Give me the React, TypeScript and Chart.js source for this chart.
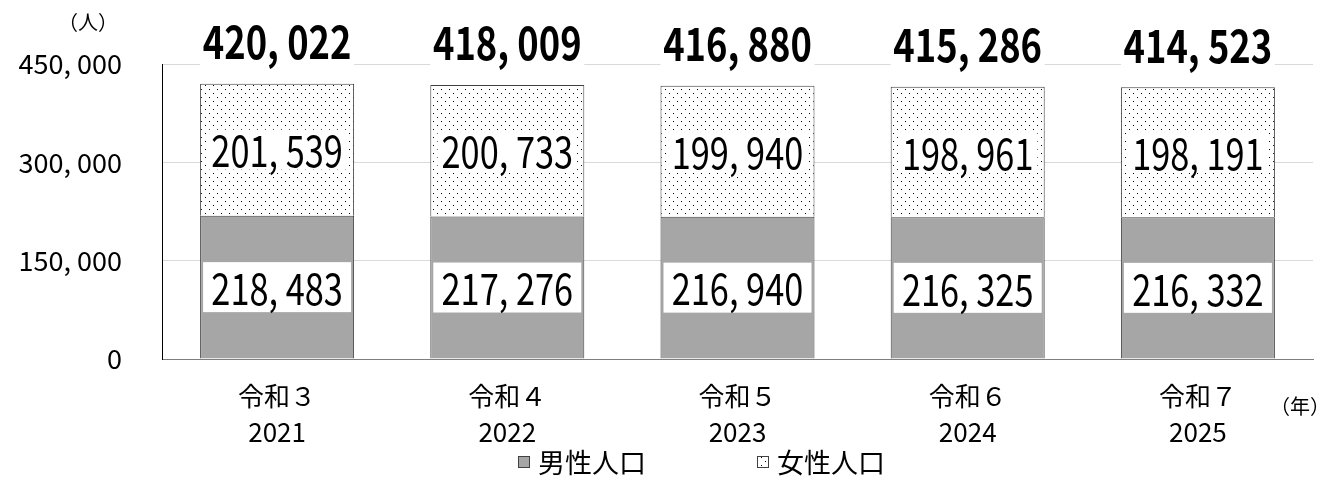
import React, { useEffect, useRef } from "react";
import { Chart, registerables } from "chart.js";

Chart.register(...registerables);

const eraLabels = ["令和３", "令和４", "令和５", "令和６", "令和７"];
const yearLabels = ["2021", "2022", "2023", "2024", "2025"];
const maleValues = [218483, 217276, 216940, 216325, 216332];
const femaleValues = [201539, 200733, 199940, 198961, 198191];
const totalValues = [420022, 418009, 416880, 415286, 414523];
const seriesNames = ["男性人口", "女性人口"];
const yMax = 450000;
const yStep = 150000;
const yUnit = "（人）";
const xUnit = "（年）";

const NUM_FONT = "'Noto Sans CJK JP', sans-serif";
const CJK_FONT = "'Noto Sans CJK JP', sans-serif";

const fmt = (n: number) => n.toLocaleString("en-US").split(",").join(", ");

function makeDotPattern(ctx: CanvasRenderingContext2D) {
  const c = document.createElement("canvas");
  c.width = 8;
  c.height = 8;
  const p = c.getContext("2d")!;
  p.fillStyle = "#ffffff";
  p.fillRect(0, 0, 8, 8);
  p.fillStyle = "#000000";
  p.fillRect(1, 1, 1, 1);
  p.fillRect(5, 5, 1, 1);
  return ctx.createPattern(c, "repeat")!;
}

function narrowText(ctx: CanvasRenderingContext2D, txt: string, x: number, y: number, sx: number) {
  ctx.save();
  ctx.translate(x, y);
  ctx.scale(sx, 1);
  ctx.fillText(txt, 0, 0);
  ctx.restore();
}

export default function App() {
  const ref = useRef<HTMLCanvasElement>(null);

  useEffect(() => {
    let chart: Chart | null = null;
    let cancelled = false;
    const canvas = ref.current!;
    const ctx0 = canvas.getContext("2d")!;
    const pattern = makeDotPattern(ctx0);

    const labelPlugin = {
      id: "valueLabels",
      afterDatasetsDraw(chart: any) {
        const ctx = chart.ctx as CanvasRenderingContext2D;
        const mMeta = chart.getDatasetMeta(0);
        const fMeta = chart.getDatasetMeta(1);
        const SX = 0.78;
        ctx.save();
        ctx.textAlign = "center";
        ctx.textBaseline = "middle";
        mMeta.data.forEach((bar: any, i: number) => {
          const { x, y, base, width } = bar.getProps(["x", "y", "base", "width"], true);
          const cy = (y + base) / 2;
          ctx.fillStyle = "#ffffff";
          ctx.fillRect(x - width / 2 + 3, cy - 25, width - 6, 50);
          ctx.fillStyle = "#000000";
          ctx.font = `44px ${NUM_FONT}`;
          narrowText(ctx, fmt(maleValues[i]), x, cy + 1, SX);
        });
        fMeta.data.forEach((bar: any, i: number) => {
          const { x, y, base, width } = bar.getProps(["x", "y", "base", "width"], true);
          const cy = (y + base) / 2;
          ctx.font = `44px ${NUM_FONT}`;
          const txt = fmt(femaleValues[i]);
          const tw = ctx.measureText(txt).width * SX;
          ctx.fillStyle = "#ffffff";
          ctx.fillRect(x - tw / 2 - 4, cy - 20, tw + 8, 40);
          ctx.fillStyle = "#000000";
          narrowText(ctx, txt, x, cy + 1, SX);
          // total
          const ty = y - 42;
          ctx.fillStyle = "#ffffff";
          ctx.fillRect(x - width / 2, ty - 22, width, 46);
          ctx.fillStyle = "#000000";
          ctx.font = `bold 46px ${NUM_FONT}`;
          narrowText(ctx, fmt(totalValues[i]), x, ty, 0.79);
        });
        ctx.restore();
      },
      afterDraw(chart: any) {
        const ctx = chart.ctx as CanvasRenderingContext2D;
        ctx.save();
        ctx.fillStyle = "#000000";
        ctx.textBaseline = "middle";
        ctx.textAlign = "center";
        ctx.font = `20px ${CJK_FONT}`;
        ctx.fillText(yUnit, 88, 22);
        ctx.fillText(xUnit, 1300, 406);
        // legend
        ctx.textAlign = "left";
        ctx.font = `27px ${CJK_FONT}`;
        const items = [
          { x: 518, bg: chart.data.datasets[0].backgroundColor, text: seriesNames[0] },
          { x: 757, bg: chart.data.datasets[1].backgroundColor, text: seriesNames[1] },
        ];
        items.forEach((it) => {
          ctx.fillStyle = it.bg;
          ctx.fillRect(it.x, 456, 12, 12);
          ctx.strokeStyle = "#404040";
          ctx.lineWidth = 1;
          ctx.strokeRect(it.x + 0.5, 456.5, 11, 11);
          ctx.fillStyle = "#000000";
          ctx.fillText(it.text, it.x + 20, 463);
        });
        ctx.restore();
      },
    };

    const build = () => {
      if (cancelled) return;
      chart = new Chart(canvas, {
        type: "bar",
        data: {
          labels: eraLabels.map((e, i) => [e, yearLabels[i]]),
          datasets: [
            {
              label: seriesNames[0],
              data: maleValues,
              backgroundColor: "#a6a6a6",
              borderColor: "#404040",
              borderWidth: 1,
              categoryPercentage: 0.669,
              barPercentage: 1,
            },
            {
              label: seriesNames[1],
              data: femaleValues,
              backgroundColor: pattern as any,
              borderColor: "#404040",
              borderWidth: 1,
              categoryPercentage: 0.669,
              barPercentage: 1,
            },
          ],
        },
        options: {
          responsive: false,
          animation: false,
          devicePixelRatio: 1,
          layout: { padding: { top: 64, right: 10, left: 0, bottom: 0 } },
          plugins: {
            legend: { display: false },
            tooltip: { enabled: false },
          },
          scales: {
            x: {
              stacked: true,
              grid: { display: false, drawTicks: false },
              border: { display: true, color: "#7f7f7f", width: 1 },
              ticks: {
                color: "#000000",
                font: { family: NUM_FONT, size: 26, lineHeight: 1.38 },
                padding: 19,
                maxRotation: 0,
                autoSkip: false,
              },
              afterFit(scale: any) {
                scale.height = 121;
              },
            },
            y: {
              stacked: true,
              min: 0,
              max: yMax,
              grid: { color: "#d9d9d9", drawTicks: false, lineWidth: 1 },
              border: { display: true, color: "#000000", width: 1 },
              ticks: {
                stepSize: yStep,
                color: "#000000",
                padding: 40,
                font: { family: NUM_FONT, size: 27 },
                callback: (v: any) => fmt(Number(v)),
              },
              afterFit(scale: any) {
                scale.width = 162;
              },
            },
          },
        },
        plugins: [labelPlugin],
      });
    };

    const fontsReady = (document as any).fonts
      ? Promise.all([
          (document as any).fonts.load(`27px "Noto Sans CJK JP"`, "0123456789,"),
          (document as any).fonts.load(`bold 46px "Noto Sans CJK JP"`, "0123456789,"),
          (document as any).fonts.load(`27px "Noto Sans CJK JP"`, "男性人口令和"),
        ]).catch(() => null)
      : Promise.resolve(null);
    fontsReady.then(build);

    return () => {
      cancelled = true;
      if (chart) chart.destroy();
    };
  }, []);

  return (
    <div style={{ position: "absolute", left: 0, top: 0, width: 1323, height: 480, background: "#fff" }}>
      <canvas ref={ref} width={1323} height={480} style={{ display: "block", width: 1323, height: 480 }} />
    </div>
  );
}
